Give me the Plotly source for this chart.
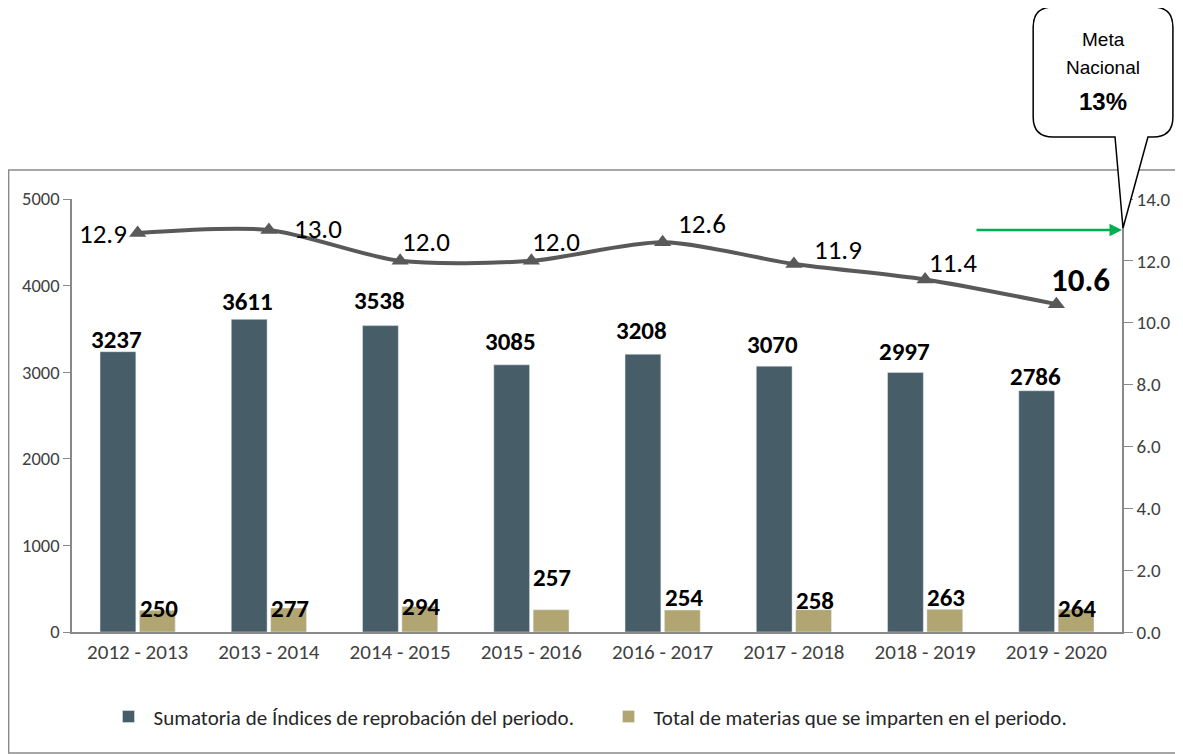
import plotly.graph_objects as go

periodos = ["2012 - 2013", "2013 - 2014", "2014 - 2015", "2015 - 2016",
            "2016 - 2017", "2017 - 2018", "2018 - 2019", "2019 - 2020"]
sumatoria = [3237, 3611, 3538, 3085, 3208, 3070, 2997, 2786]
materias = [250, 277, 294, 257, 254, 258, 263, 264]
indice = [12.9, 13.0, 12.0, 12.0, 12.6, 11.9, 11.4, 10.6]
meta = 13

# page body has an 8px margin, so the figure is a bit smaller than the window
OFF = 8
W, H = 1183 - OFF, 754 - OFF
L, R, T, B = 72, 1124, 199, 632   # plot area in window pixels
FONT = "Carlito, Lato, sans-serif"


def px(x, y):
    # window pixel -> paper coords
    return (x - L) / (R - L), (B - y) / (B - T)


fig = go.Figure()
fig.add_bar(x=periodos, y=sumatoria, name="Sumatoria de Índices de reprobación del periodo.",
            marker_color="#475E68")
fig.add_bar(x=periodos, y=materias, name="Total de materias que se imparten en el periodo.",
            marker_color="#B1A572")
fig.add_scatter(x=periodos, y=indice, yaxis="y2", mode="lines+markers", showlegend=False,
                line=dict(color="#595959", width=4, shape="spline", smoothing=0.8),
                marker=dict(symbol="triangle-up", size=15, color="#595959"))

ann = []
dark_dy = [12, 18, 25, 23, 24, 22, 21, 14]
tan_dy = [2, 0, 0, 32, 13, 9, 12, 1]
for p, v, d in zip(periodos, sumatoria, dark_dy):
    ann.append(dict(x=p, y=v, yref="y", text="<b>%d</b>" % v, showarrow=False,
                    xshift=-21, yshift=d, yanchor="middle",
                    font=dict(family=FONT, size=25, color="black")))
for p, v, d in zip(periodos, materias, tan_dy):
    ann.append(dict(x=p, y=v, yref="y", text="<b>%d</b>" % v, showarrow=False,
                    xshift=21, yshift=d, yanchor="middle",
                    font=dict(family=FONT, size=25, color="black")))
line_off = [(-35, 0), (49, 1), (26, 19), (25, 19), (39, 19), (44, 14), (28, 17), (24, 24)]
for i, (p, v, (dx, dy)) in enumerate(zip(periodos, indice, line_off)):
    last = i == len(indice) - 1
    ann.append(dict(x=p, y=v, yref="y2", text=("<b>%.1f</b>" if last else "%.1f") % v,
                    showarrow=False, xshift=dx, yshift=dy, yanchor="middle",
                    font=dict(family=FONT, size=33 if last else 27, color="black")))

# meta arrow
ann.append(dict(x=1.0, xref="paper", y=meta, yref="y2", ax=-147, ay=0, text="",
                showarrow=True, arrowhead=2, arrowsize=1, arrowwidth=2.5,
                arrowcolor="#00B050", standoff=0))
for txt, yy, sz in [("Meta", 40, 19), ("Nacional", 68, 19), ("<b>13%</b>", 101, 24)]:
    xx, yp = px(1105, yy)
    ann.append(dict(x=xx, y=yp, xref="paper", yref="paper", text=txt, showarrow=False,
                    xanchor="center", yanchor="middle",
                    font=dict(family="Liberation Sans, Arial", size=sz, color="black")))

# border
x0, y0 = px(8.5, 170)
x1, y1 = px(1182, 753)
shapes = [dict(type="rect", xref="paper", yref="paper", x0=x0, y0=y1, x1=x1, y1=y0,
               line=dict(color="#898989", width=1.5), layer="below")]

# callout box
bl, br, bt, bb, r = 1035, 1175, 7, 137, 20
pts = [("M", bl + r, bt), ("L", br - r, bt), ("Q", br, bt, br, bt + r), ("L", br, bb - r),
       ("Q", br, bb, br - r, bb), ("L", 1150, bb), ("L", 1125, 228), ("L", 1117, bb),
       ("L", bl + r, bb), ("Q", bl, bb, bl, bb - r), ("L", bl, bt + r), ("Q", bl, bt, bl + r, bt)]
path = ""
for p in pts:
    cmd, coords = p[0], p[1:]
    parts = []
    for k in range(0, len(coords), 2):
        a, b = px(coords[k], coords[k + 1])
        parts.append("%.5f,%.5f" % (a, b))
    path += cmd + " " + " ".join(parts) + " "
path += "Z"
shapes.append(dict(type="path", xref="paper", yref="paper", path=path,
                   fillcolor="white", line=dict(color="black", width=1.5)))

fig.update_layout(
    width=W, height=H,
    margin=dict(l=L - OFF, r=W - (R - OFF), t=T - OFF, b=H - (B - OFF)),
    plot_bgcolor="white", paper_bgcolor="white",
    barmode="group", bargap=0.4, bargroupgap=0.09,
    font=dict(family=FONT, size=18, color="#404040"),
    xaxis=dict(showline=True, linecolor="#898989", linewidth=1.5, ticks="",
               tickfont=dict(size=21, color="#404040")),
    yaxis=dict(range=[0, 5000], dtick=1000, showgrid=False, zeroline=False,
               showline=True, linecolor="#898989", linewidth=1.5, ticks="outside",
               ticklen=7, tickcolor="#898989", tickfont=dict(size=18.5, color="#404040")),
    yaxis2=dict(range=[0, 14], dtick=2, tickformat=".1f", overlaying="y", side="right",
                showgrid=False, zeroline=False, showline=True, linecolor="#898989",
                linewidth=1.5, ticks="outside", ticklen=9, tickcolor="#898989",
                tickfont=dict(size=19, color="#404040")),
    legend=dict(orientation="h", x=0.03, xanchor="left", y=-0.196, yanchor="middle",
                font=dict(size=21, color="#262626"), entrywidth=445, entrywidthmode="pixels",
                itemwidth=40),
    annotations=ann, shapes=shapes,
)

fig.write_html("out.html")
